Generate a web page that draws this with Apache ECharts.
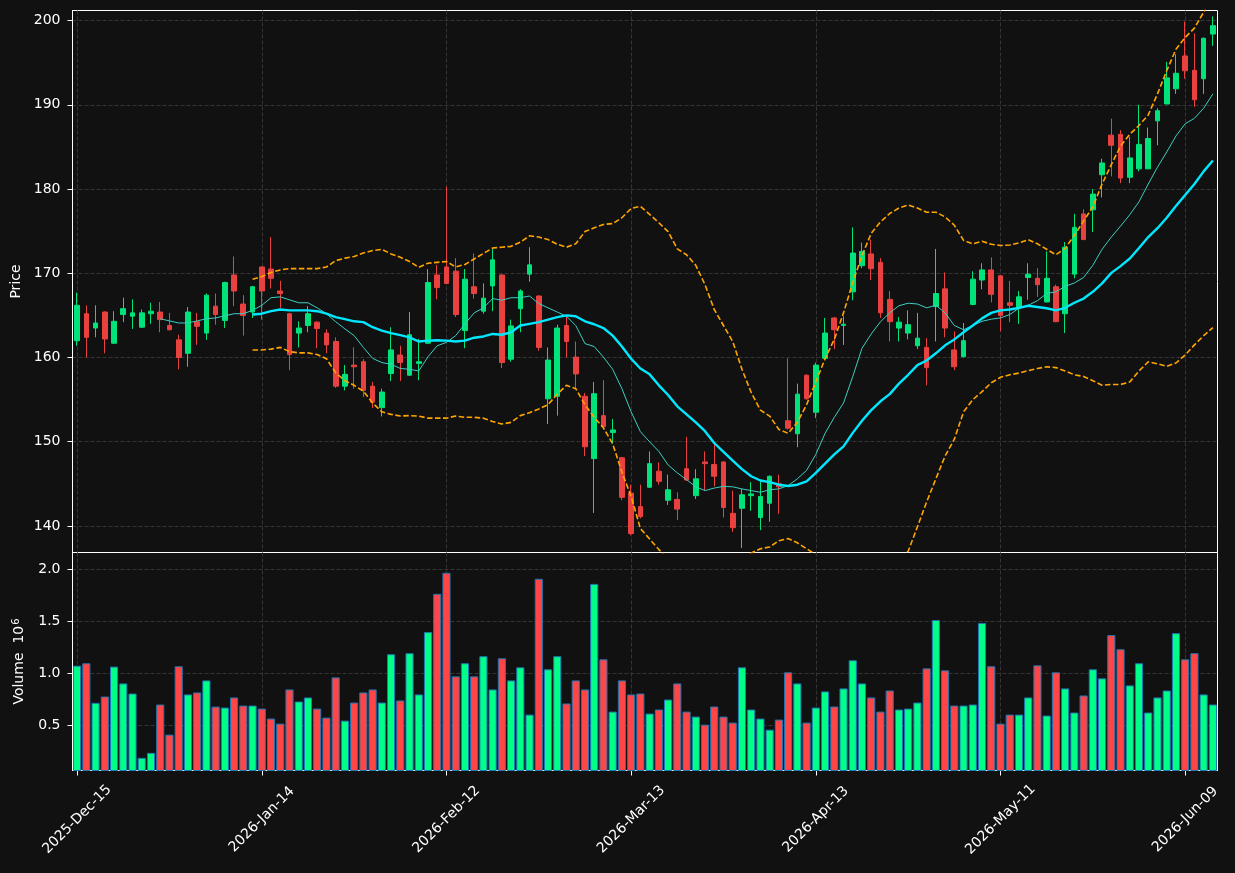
<!DOCTYPE html>
<html><head><meta charset="utf-8">
<script src="https://cdn.jsdelivr.net/npm/echarts@6/dist/echarts.min.js"></script>
<style>html,body{margin:0;padding:0;background:#111111;}#c{width:1235px;height:873px;}</style>
</head><body><div id="c"></div>
<script>
const dates = [
'2025-Dec-15','2025-Dec-16','2025-Dec-17','2025-Dec-18','2025-Dec-19','2025-Dec-22','2025-Dec-23','2025-Dec-24','2025-Dec-26','2025-Dec-29','2025-Dec-30','2025-Dec-31',
'2026-Jan-02','2026-Jan-05','2026-Jan-06','2026-Jan-07','2026-Jan-08','2026-Jan-09','2026-Jan-12','2026-Jan-13','2026-Jan-14','2026-Jan-15','2026-Jan-16','2026-Jan-20','2026-Jan-21','2026-Jan-22','2026-Jan-23','2026-Jan-26','2026-Jan-27','2026-Jan-28','2026-Jan-29','2026-Jan-30',
'2026-Feb-02','2026-Feb-03','2026-Feb-04','2026-Feb-05','2026-Feb-06','2026-Feb-09','2026-Feb-10','2026-Feb-11','2026-Feb-12','2026-Feb-13','2026-Feb-17','2026-Feb-18','2026-Feb-19','2026-Feb-20','2026-Feb-23','2026-Feb-24','2026-Feb-25','2026-Feb-26','2026-Feb-27',
'2026-Mar-02','2026-Mar-03','2026-Mar-04','2026-Mar-05','2026-Mar-06','2026-Mar-09','2026-Mar-10','2026-Mar-11','2026-Mar-12','2026-Mar-13','2026-Mar-16','2026-Mar-17','2026-Mar-18','2026-Mar-19','2026-Mar-20','2026-Mar-23','2026-Mar-24','2026-Mar-25','2026-Mar-26','2026-Mar-27','2026-Mar-30','2026-Mar-31',
'2026-Apr-01','2026-Apr-02','2026-Apr-06','2026-Apr-07','2026-Apr-08','2026-Apr-09','2026-Apr-10','2026-Apr-13','2026-Apr-14','2026-Apr-15','2026-Apr-16','2026-Apr-17','2026-Apr-20','2026-Apr-21','2026-Apr-22','2026-Apr-23','2026-Apr-24','2026-Apr-27','2026-Apr-28','2026-Apr-29','2026-Apr-30',
'2026-May-01','2026-May-04','2026-May-05','2026-May-06','2026-May-07','2026-May-08','2026-May-11','2026-May-12','2026-May-13','2026-May-14','2026-May-15','2026-May-18','2026-May-19','2026-May-20','2026-May-21','2026-May-22','2026-May-26','2026-May-27','2026-May-28','2026-May-29',
'2026-Jun-01','2026-Jun-02','2026-Jun-03','2026-Jun-04','2026-Jun-05','2026-Jun-08','2026-Jun-09','2026-Jun-10','2026-Jun-11','2026-Jun-12'];

const open = [162.0,165.2,163.5,165.4,161.7,165.1,164.9,163.6,165.2,165.4,163.8,162.1,160.5,164.25,162.9,166.1,164.4,169.8,166.35,165.4,
170.75,170.5,167.9,165.2,162.9,163.8,164.2,162.9,161.9,156.6,159.1,159.5,156.6,154.05,158.1,160.3,157.9,159.3,161.7,169.8,
170.75,170.25,163.2,168.4,165.5,168.5,169.8,159.8,165.8,169.9,167.3,155.1,155.4,163.8,160.05,155.4,148.0,153.1,151.1,148.1,
143.9,142.3,144.6,146.5,143.05,143.15,146.8,143.6,147.6,147.3,147.6,141.5,142.1,143.6,141.0,142.7,145.0,152.5,150.95,157.9,
153.5,159.9,164.7,163.8,167.8,170.9,172.3,171.3,166.9,163.5,162.9,161.4,161.2,166.05,168.15,160.9,160.1,166.3,169.2,170.4,
169.7,166.5,165.9,169.5,169.4,166.6,168.4,165.2,169.9,177.05,177.55,181.7,186.4,186.5,181.4,182.4,182.4,188.1,190.1,191.9,
195.8,194.1,193.1,198.4];
const high = [167.7,166.2,166.2,165.5,165.5,167.1,166.9,165.7,166.5,166.6,165.3,162.7,166.0,165.3,167.6,167.6,169.0,172.0,167.4,168.5,
170.8,174.3,169.1,165.3,164.3,166.1,164.3,163.35,162.4,159.1,161.2,159.8,157.1,156.3,163.6,161.4,165.4,162.2,170.5,171.0,
180.3,171.8,170.5,172.35,168.8,173.0,169.9,164.5,168.1,173.1,167.4,161.2,163.9,164.9,161.9,155.8,157.1,157.3,152.7,148.2,
144.9,144.9,148.85,147.55,146.1,144.0,150.6,146.75,148.85,149.8,147.7,144.2,144.4,145.2,145.3,146.0,146.1,159.9,156.9,158.0,
159.4,164.7,164.8,164.9,175.45,173.65,174.0,171.8,167.9,164.8,165.6,165.3,162.3,172.9,170.1,163.1,164.1,170.25,171.2,171.9,
169.8,169.1,167.9,171.2,170.6,172.6,168.65,173.7,177.05,177.6,180.0,183.6,188.35,187.0,186.2,190.0,187.3,189.6,195.1,196.0,
199.9,198.5,198.0,200.5];
const low = [161.4,160.0,162.4,160.5,161.6,164.2,163.4,163.5,164.0,163.0,163.2,158.6,158.9,161.5,162.1,163.9,163.5,166.1,162.6,164.7,
164.5,168.2,165.9,158.5,161.2,163.0,161.1,160.5,156.4,156.1,156.3,155.3,154.0,153.0,157.2,157.2,157.8,157.3,161.6,166.9,
168.7,164.8,161.1,167.0,165.2,165.5,158.75,159.5,163.0,169.0,160.8,152.1,153.1,160.0,156.3,148.3,141.55,151.6,149.8,143.05,
138.9,140.9,144.5,144.9,142.5,140.7,145.4,143.2,144.2,144.7,141.0,139.3,137.4,141.8,139.5,140.5,141.45,151.45,149.35,155.0,
152.8,159.85,161.0,161.5,166.8,170.6,169.2,164.7,161.9,161.9,162.15,161.0,156.7,161.9,162.4,158.5,160.0,166.2,168.1,166.55,
163.1,164.2,164.0,166.85,167.2,166.55,164.2,162.9,169.4,174.0,174.9,179.0,181.5,180.7,180.7,182.1,182.4,185.2,190.1,191.3,
193.1,189.75,191.3,197.0];
const close = [166.2,162.4,164.1,162.2,164.3,165.8,165.3,165.3,165.5,164.5,163.3,160.0,165.4,163.7,167.4,165.1,168.9,167.9,165.0,168.4,
167.9,169.4,167.6,160.35,163.5,165.2,163.45,161.5,156.6,158.0,158.9,156.1,154.7,155.9,160.9,159.4,162.7,159.5,168.9,168.3,
168.8,165.1,169.3,167.6,167.05,171.6,159.4,163.75,167.9,171.0,161.2,159.7,163.5,161.9,158.05,149.4,155.7,151.8,151.4,143.4,
139.1,141.1,147.4,145.3,144.3,142.0,145.45,145.6,147.4,145.9,142.2,139.8,143.7,143.8,143.5,145.9,144.65,151.6,155.65,155.1,
159.1,162.9,163.3,163.95,172.4,172.6,170.55,165.3,164.25,164.2,163.9,162.3,158.8,167.6,163.5,158.9,162.0,169.3,170.4,167.5,
165.0,166.2,167.2,169.9,168.65,169.4,164.25,173.1,175.45,174.0,179.4,183.1,185.2,181.3,183.7,185.3,186.0,189.3,193.2,193.75,
194.05,190.6,197.9,199.4];
const volume = [1.074,1.097,0.716,0.777,1.065,0.903,0.806,0.187,0.235,0.70,0.41,1.068,0.797,0.816,0.932,0.68,0.671,0.768,0.69,0.69,
0.661,0.565,0.516,0.845,0.729,0.768,0.661,0.574,0.961,0.545,0.719,0.816,0.845,0.719,1.184,0.739,1.194,0.797,1.397,1.765,
1.968,0.971,1.097,0.971,1.165,0.845,1.145,0.932,1.058,0.603,1.91,1.039,1.165,0.71,0.932,0.845,1.861,1.135,0.632,0.932,
0.797,0.806,0.613,0.652,0.748,0.903,0.632,0.584,0.506,0.681,0.584,0.526,1.058,0.652,0.565,0.458,0.555,1.01,0.903,0.526,
0.671,0.826,0.681,0.855,1.126,0.903,0.768,0.632,0.835,0.652,0.661,0.719,1.048,1.513,1.029,0.69,0.69,0.70,1.484,1.068,
0.516,0.603,0.603,0.768,1.077,0.594,1.01,0.855,0.623,0.787,1.039,0.952,1.368,1.232,0.884,1.097,0.623,0.768,0.835,1.387,
1.135,1.194,0.797,0.70];
const ma10 = [null,null,null,null,null,null,null,null,null,164.6,164.35,164.1,164.1,164.35,164.6,164.7,164.95,165.2,165.2,165.6,
166.2,167.1,167.2,166.85,166.5,166.5,165.9,165.2,164.25,163.4,162.6,161.2,159.9,159.4,159.2,158.7,158.6,158.4,160.1,161.4,
161.8,162.6,164.0,165.3,165.9,167.0,166.8,167.1,167.1,167.3,166.4,165.9,165.4,164.9,163.8,161.65,161.3,160.05,158.6,156.3,
153.55,151.2,150.0,148.85,147.25,146.3,145.5,144.65,144.2,144.5,144.7,144.65,144.4,144.2,144.0,144.3,144.4,144.8,145.6,146.6,
148.5,151.0,152.9,154.6,157.75,161.1,162.8,164.25,165.3,166.15,166.45,166.35,165.9,166.2,165.3,163.8,163.3,163.8,164.3,164.55,
164.7,165.1,165.85,166.2,166.75,167.6,167.8,168.45,168.85,169.5,170.95,172.85,174.3,175.6,176.95,178.5,180.6,182.6,184.4,186.3,
187.75,188.4,189.6,191.3];
const ma20 = [null,null,null,null,null,null,null,null,null,null,null,null,null,null,null,null,null,null,null,165.1,
165.2,165.5,165.7,165.6,165.6,165.6,165.5,165.2,164.8,164.55,164.3,164.2,163.6,163.2,162.9,162.65,162.4,161.9,162.0,162.05,
162.0,161.9,162.0,162.35,162.5,162.8,162.7,163.0,163.8,164.0,164.2,164.5,164.8,165.0,164.9,164.3,163.95,163.5,162.6,161.3,
159.85,158.7,158.0,156.7,155.55,154.2,153.25,152.3,151.25,149.85,148.8,147.75,146.75,145.9,145.4,145.2,144.9,144.75,144.9,145.3,
146.3,147.4,148.5,149.45,151.05,152.5,153.75,154.8,155.65,156.9,157.95,159.1,159.65,160.5,161.45,162.15,163.0,163.8,164.65,165.3,
165.6,165.7,165.9,166.15,166.0,165.85,165.6,165.9,166.5,167.0,167.8,168.8,170.05,170.85,171.75,173.0,174.3,175.35,176.6,178.0,
179.3,180.6,182.1,183.4];
const bbUpper = [null,null,null,null,null,null,null,null,null,null,null,null,null,null,null,null,null,null,null,169.3,
169.6,170.1,170.4,170.55,170.55,170.55,170.55,170.75,171.5,171.8,172.0,172.4,172.7,172.85,172.3,171.9,171.4,170.7,171.2,171.3,
171.4,170.75,171.05,171.7,172.35,173.0,173.1,173.2,173.7,174.45,174.3,174.0,173.45,173.1,173.5,174.95,175.4,175.8,175.9,176.6,
177.7,177.95,177.0,176.0,174.95,172.9,172.2,170.95,168.65,165.7,163.8,161.9,158.6,155.85,153.75,153.05,151.45,151.0,152.3,154.4,
157.1,159.85,162.15,165.3,168.9,172.1,174.75,176.1,177.1,177.75,178.1,177.75,177.25,177.25,176.7,175.7,173.9,173.5,173.8,173.45,
173.3,173.35,173.6,174.0,173.5,172.85,172.2,172.95,174.5,176.2,177.9,180.6,182.9,185.1,186.5,187.55,188.8,191.3,194.05,196.6,
198.0,199.1,201.0,203.2];
const bbLower = [null,null,null,null,null,null,null,null,null,null,null,null,null,null,null,null,null,null,null,160.9,
160.9,161.0,161.2,160.7,160.55,160.55,160.35,159.85,158.2,157.25,156.7,156.0,154.6,153.55,153.25,153.05,153.1,153.05,152.8,152.8,
152.8,153.05,152.9,152.9,152.8,152.4,152.1,152.3,153.1,153.45,153.9,154.4,155.65,156.7,156.3,154.4,152.9,151.65,149.75,146.4,
143.5,139.7,138.45,137.2,136.15,135.5,134.3,133.65,133.85,134.0,133.8,133.6,135.5,136.8,137.3,137.5,138.25,138.5,138.0,137.3,
136.6,135.2,134.85,133.6,133.2,132.9,132.75,133.5,134.2,136.05,137.0,139.9,142.85,145.6,148.3,150.3,153.55,155.0,155.95,157.0,
157.65,157.95,158.15,158.45,158.7,158.9,158.8,158.4,157.95,157.75,157.25,156.7,156.8,156.8,157.1,158.4,159.5,159.25,158.95,159.35,
160.3,161.5,162.6,163.55];

const UP = '#00e27a', DOWN = '#e8413f', VUP = '#00ff88', VDOWN = '#ff4545';
const TXT = '#ffffff', GRIDC = '#3a3a3a', FONT = 'DejaVu Sans';
const every20 = (i) => i % 20 === 0;
const splitStyle = { color: GRIDC, type: [4, 2], width: 0.9 };

const chart = echarts.init(document.getElementById('c'), null, { renderer: 'canvas' });
chart.setOption({
  backgroundColor: '#111111',
  animation: false,
  textStyle: { fontFamily: FONT },
  grid: [
    { left: 72.5, top: 10.5, width: 1145, height: 542, show: true, borderColor: '#ffffff', borderWidth: 1, backgroundColor: 'transparent' },
    { left: 72.5, top: 552.5, width: 1145, height: 218, show: true, borderColor: '#ffffff', borderWidth: 1, backgroundColor: 'transparent' }
  ],
  xAxis: [
    { type: 'category', gridIndex: 0, data: dates, boundaryGap: true,
      axisLine: { show: false }, axisTick: { show: false }, axisLabel: { show: false },
      splitLine: { show: true, interval: every20, alignWithLabel: true, lineStyle: splitStyle } },
    { type: 'category', gridIndex: 1, data: dates, boundaryGap: true,
      axisLine: { show: true, lineStyle: { color: '#ffffff', width: 1 } },
      axisTick: { show: true, interval: every20, alignWithLabel: true, length: 5, lineStyle: { color: '#ffffff' } },
      axisLabel: { interval: every20, rotate: 45, align: 'center', verticalAlign: 'middle', margin: 49, color: TXT, fontSize: 14, fontFamily: FONT },
      splitLine: { show: true, interval: every20, alignWithLabel: true, lineStyle: splitStyle } }
  ],
  yAxis: [
    { type: 'value', gridIndex: 0, min: 136.85, max: 201.2, splitNumber: 6, scale: true,
      name: 'Price', nameLocation: 'middle', nameGap: 47, nameRotate: 90,
      nameTextStyle: { color: TXT, fontSize: 14, fontFamily: FONT },
      axisLine: { show: true, lineStyle: { color: '#ffffff' } },
      axisTick: { show: true, length: 5, lineStyle: { color: '#ffffff' } },
      axisLabel: { color: TXT, fontSize: 14, margin: 12, showMinLabel: false, showMaxLabel: false, fontFamily: FONT },
      splitLine: { show: true, showMinLine: false, showMaxLine: false, lineStyle: splitStyle } },
    { type: 'value', gridIndex: 1, min: 0.065, max: 2.163, splitNumber: 4,
      name: 'Volume  10{s|6}', nameLocation: 'middle', nameGap: 45, nameRotate: 90,
      nameTextStyle: { color: TXT, fontSize: 14, fontFamily: FONT,
        rich: { s: { color: TXT, fontSize: 10, fontFamily: FONT, verticalAlign: 'top', padding: [0, 0, 6, 1] } } },
      axisLine: { show: true, lineStyle: { color: '#ffffff' } },
      axisTick: { show: true, length: 5, lineStyle: { color: '#ffffff' } },
      axisLabel: { color: TXT, fontSize: 14, margin: 12, showMinLabel: false, showMaxLabel: false, fontFamily: FONT,
        formatter: (v) => v.toFixed(1) },
      splitLine: { show: true, showMinLine: false, showMaxLine: false, lineStyle: splitStyle } }
  ],
  series: [
    { type: 'candlestick', xAxisIndex: 0, yAxisIndex: 0, barWidth: '56%',
      data: dates.map((d, i) => [open[i], close[i], low[i], high[i]]),
      itemStyle: { color: UP, color0: DOWN, borderColor: UP, borderColor0: DOWN, borderWidth: 1 } },
    { type: 'line', xAxisIndex: 0, yAxisIndex: 0, data: bbUpper, symbol: 'none', clip: true,
      lineStyle: { color: '#ffa500', width: 1.6, type: [5.5, 2.5] } },
    { type: 'line', xAxisIndex: 0, yAxisIndex: 0, data: bbLower, symbol: 'none', clip: true,
      lineStyle: { color: '#ffa500', width: 1.6, type: [5.5, 2.5] } },
    { type: 'line', xAxisIndex: 0, yAxisIndex: 0, data: ma10, symbol: 'none', clip: true,
      lineStyle: { color: '#3ccfc2', width: 1 } },
    { type: 'line', xAxisIndex: 0, yAxisIndex: 0, data: ma20, symbol: 'none', clip: true,
      lineStyle: { color: '#00e8ff', width: 2.4 } },
    { type: 'bar', xAxisIndex: 1, yAxisIndex: 1, barCategoryGap: '12%',
      data: volume.map((v, i) => ({ value: v, itemStyle: { color: close[i] >= open[i] ? VUP : VDOWN } })),
      itemStyle: { borderColor: '#1f77b4', borderWidth: 1 } }
  ]
});
</script></body></html>
